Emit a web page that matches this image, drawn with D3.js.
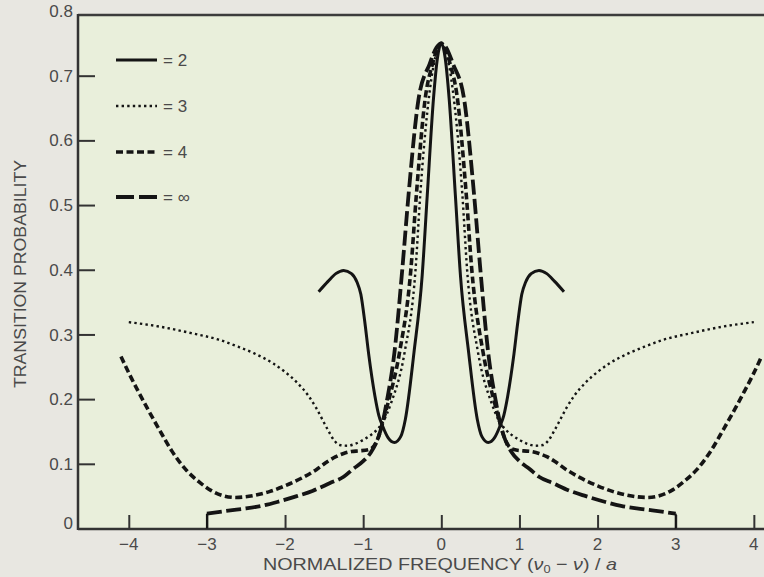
<!DOCTYPE html>
<html>
<head>
<meta charset="utf-8">
<script src="https://cdn.jsdelivr.net/npm/d3@7"></script>
<style>
  html, body { margin: 0; padding: 0; background: #e8e7e1; }
  svg { display: block; }
  text { font-family: "Liberation Sans", Arial, Helvetica, sans-serif; fill: #4a4a4a; }
</style>
</head>
<body>
<svg id="chart" width="764" height="577"></svg>
<script>
// ---------------- data ----------------
const xTicks = [-4, -3, -2, -1, 0, 1, 2, 3, 4];
const xTickLabels = ["\u22124", "\u22123", "\u22122", "\u22121", "0", "1", "2", "3", "4"];
const yTicks = [0, 0.1, 0.2, 0.3, 0.4, 0.5, 0.6, 0.7, 0.8];
const yTickLabels = ["0", "0.1", "0.2", "0.3", "0.4", "0.5", "0.6", "0.7", "0.8"];

const seriesNames = ["= 2", "= 3", "= 4", "= \u221E"];

// N = 2 (solid)
const n2Freq = [-1.57, -1.45, -1.35, -1.25, -1.15, -1.08, -1.03, -0.98, -0.93, -0.85, -0.8, -0.75, -0.68, -0.6, -0.52, -0.46, -0.35, -0.245, -0.18, -0.1, -0.05, 0,
                0.05, 0.1, 0.18, 0.245, 0.35, 0.46, 0.52, 0.6, 0.68, 0.75, 0.8, 0.85, 0.93, 0.98, 1.03, 1.08, 1.15, 1.25, 1.35, 1.45, 1.57];
const n2Prob = [0.366, 0.382, 0.394, 0.399, 0.394, 0.381, 0.362, 0.32, 0.27, 0.205, 0.175, 0.158, 0.140, 0.133, 0.142, 0.169, 0.272, 0.391, 0.515, 0.665, 0.727, 0.75,
                0.727, 0.665, 0.515, 0.391, 0.272, 0.169, 0.142, 0.133, 0.140, 0.158, 0.175, 0.205, 0.27, 0.32, 0.362, 0.381, 0.394, 0.399, 0.394, 0.382, 0.366];

// N = 3 (dotted)
const n3Freq = [-4.0, -3.6, -3.2, -2.85, -2.6, -2.4, -2.15, -2.0, -1.85, -1.7, -1.6, -1.52, -1.45, -1.37, -1.3, -1.2, -1.1, -1.0, -0.92, -0.83, -0.75, -0.64, -0.47, -0.33, -0.27, -0.155, -0.1, -0.05, 0,
                0.05, 0.1, 0.155, 0.27, 0.33, 0.47, 0.64, 0.75, 0.83, 0.92, 1.0, 1.1, 1.2, 1.3, 1.37, 1.45, 1.52, 1.6, 1.7, 1.85, 2.0, 2.15, 2.4, 2.6, 2.85, 3.2, 3.6, 4.0];
const n3Prob = [0.319, 0.312, 0.302, 0.292, 0.281, 0.271, 0.255, 0.242, 0.226, 0.205, 0.186, 0.168, 0.152, 0.136, 0.129, 0.128, 0.131, 0.137, 0.143, 0.152, 0.164, 0.195, 0.272, 0.40, 0.515, 0.67, 0.715, 0.74, 0.75,
                0.74, 0.715, 0.67, 0.515, 0.40, 0.272, 0.195, 0.164, 0.152, 0.143, 0.137, 0.131, 0.128, 0.129, 0.136, 0.152, 0.168, 0.186, 0.205, 0.226, 0.242, 0.255, 0.271, 0.281, 0.292, 0.302, 0.312, 0.319];

// N = 4 (short dashes)
const n4Freq = [-4.1, -3.99, -3.87, -3.75, -3.61, -3.45, -3.27, -3.1, -2.95, -2.8, -2.63, -2.4, -2.2, -2.0, -1.77, -1.6, -1.45, -1.35, -1.25, -1.15, -1.05, -0.93, -0.86, -0.8, -0.75, -0.68, -0.535, -0.39, -0.32, -0.2, -0.12, -0.05, 0,
                0.05, 0.12, 0.2, 0.32, 0.39, 0.535, 0.68, 0.75, 0.8, 0.86, 0.93, 1.05, 1.15, 1.25, 1.35, 1.45, 1.6, 1.77, 2.0, 2.2, 2.4, 2.63, 2.8, 2.95, 3.1, 3.27, 3.45, 3.61, 3.75, 3.87, 3.99, 4.1];
const n4Prob = [0.266, 0.238, 0.21, 0.183, 0.153, 0.12, 0.091, 0.072, 0.059, 0.051, 0.048, 0.051, 0.057, 0.066, 0.079, 0.091, 0.104, 0.111, 0.116, 0.119, 0.12, 0.122, 0.128, 0.143, 0.164, 0.195, 0.272, 0.40, 0.515, 0.67, 0.715, 0.742, 0.75,
                0.742, 0.715, 0.67, 0.515, 0.40, 0.272, 0.195, 0.164, 0.143, 0.128, 0.122, 0.12, 0.119, 0.116, 0.111, 0.104, 0.091, 0.079, 0.066, 0.057, 0.051, 0.048, 0.051, 0.059, 0.072, 0.091, 0.12, 0.153, 0.183, 0.21, 0.238, 0.266];

// N = infinity (long dashes)
const nInfFreq = [-3.0, -2.7, -2.5, -2.3, -2.1, -1.85, -1.65, -1.43, -1.25, -1.13, -1.0, -0.9, -0.8, -0.75, -0.7, -0.6, -0.5, -0.42, -0.29, -0.15, -0.06, 0,
                  0.06, 0.15, 0.29, 0.42, 0.5, 0.6, 0.7, 0.75, 0.8, 0.9, 1.0, 1.13, 1.25, 1.43, 1.65, 1.85, 2.1, 2.3, 2.5, 2.7, 3.0];
const nInfProb = [0.023, 0.028, 0.031, 0.035, 0.041, 0.05, 0.058, 0.07, 0.08, 0.092, 0.104, 0.118, 0.143, 0.164, 0.195, 0.272, 0.40, 0.515, 0.665, 0.718, 0.744, 0.75,
                  0.744, 0.718, 0.665, 0.515, 0.40, 0.272, 0.195, 0.164, 0.143, 0.118, 0.104, 0.092, 0.08, 0.07, 0.058, 0.05, 0.041, 0.035, 0.031, 0.028, 0.023];
// ends of the N = infinity curve drop to the axis
const nInfEnds = [-3.0, 3.0];

// ---------------- drawing ----------------
const plot = { left: 78, right: 764, top: 15, bottom: 529 };
const svg = d3.select("#chart");

const x = d3.scaleLinear().domain([-4.65, 4.13]).range([plot.left, plot.right]);
const y = d3.scaleLinear().domain([0, 0.8]).range([528.5, 11]);

// plot background
svg.append("rect")
  .attr("x", plot.left).attr("y", plot.top)
  .attr("width", plot.right - plot.left).attr("height", plot.bottom - plot.top)
  .attr("fill", "#e9efdb");

// top frame line
svg.append("line")
  .attr("x1", plot.left).attr("x2", plot.right)
  .attr("y1", plot.top).attr("y2", plot.top)
  .attr("stroke", "#3c3c3c").attr("stroke-width", 2.5);

// axes
const xAxis = d3.axisTop(x).tickValues(xTicks).tickSize(14).tickFormat("");
const gx = svg.append("g").attr("transform", `translate(0,${plot.bottom})`).call(xAxis);
gx.select(".domain").remove();
gx.selectAll(".tick line").attr("stroke", "#333").attr("stroke-width", 2);

const yAxis = d3.axisRight(y).tickValues(yTicks.filter(d => d > 0 && d < 0.8)).tickSize(17).tickFormat("");
const gy = svg.append("g").attr("transform", `translate(${plot.left},0)`).call(yAxis);
gy.select(".domain").remove();
gy.selectAll(".tick line").attr("stroke", "#333").attr("stroke-width", 2);

// axis lines
svg.append("line")
  .attr("x1", plot.left).attr("x2", plot.right)
  .attr("y1", plot.bottom).attr("y2", plot.bottom)
  .attr("stroke", "#333").attr("stroke-width", 2.5);
svg.append("line")
  .attr("x1", plot.left).attr("x2", plot.left)
  .attr("y1", plot.top - 1).attr("y2", plot.bottom + 1)
  .attr("stroke", "#333").attr("stroke-width", 2.5);

// tick labels
svg.append("g").selectAll("text").data(xTicks).join("text")
  .attr("x", d => x(d)).attr("y", 550)
  .attr("text-anchor", "middle")
  .attr("font-size", 17)
  .text((d, i) => xTickLabels[i]);

svg.append("g").selectAll("text").data(yTicks).join("text")
  .attr("x", 73).attr("y", d => d === 0 ? y(d) - 6 : y(d))
  .attr("dy", "0.36em")
  .attr("text-anchor", "end")
  .attr("font-size", 17)
  .text((d, i) => yTickLabels[i]);

// axis titles
const xt = svg.append("text")
  .attr("x", 440).attr("y", 570)
  .attr("text-anchor", "middle")
  .attr("font-size", 17)
  .attr("textLength", 354)
  .attr("lengthAdjust", "spacingAndGlyphs");
xt.append("tspan").text("NORMALIZED FREQUENCY (");
xt.append("tspan").attr("font-style", "italic").text("\u03BD");
xt.append("tspan").attr("font-size", 11).attr("dy", 3).text("0");
xt.append("tspan").attr("dy", -3).text(" \u2212 ");
xt.append("tspan").attr("font-style", "italic").text("\u03BD");
xt.append("tspan").text(") / ");
xt.append("tspan").attr("font-style", "italic").text("a");

svg.append("text")
  .attr("transform", "translate(26,274) rotate(-90)")
  .attr("text-anchor", "middle")
  .attr("font-size", 16.5)
  .attr("textLength", 228)
  .attr("lengthAdjust", "spacingAndGlyphs")
  .text("TRANSITION PROBABILITY");

// series
const styles = [
  { width: 3, dash: null },
  { width: 2.4, dash: "2.4,3.2" },
  { width: 3.6, dash: "7,3.5" },
  { width: 3.8, dash: "15,4.5" }
];
const series = [
  { f: n2Freq, p: n2Prob },
  { f: n3Freq, p: n3Prob },
  { f: n4Freq, p: n4Prob },
  { f: nInfFreq, p: nInfProb }
];

const line = d3.line().x(d => x(d[0])).y(d => y(d[1])).curve(d3.curveMonotoneX);

series.forEach((s, i) => {
  const pts = s.f.map((v, k) => [v, s.p[k]]);
  svg.append("path")
    .datum(pts)
    .attr("d", line)
    .attr("fill", "none")
    .attr("stroke", "#141414")
    .attr("stroke-width", styles[i].width)
    .attr("stroke-dasharray", styles[i].dash);
});

// vertical drops at the ends of the N = infinity curve
svg.append("g").selectAll("line").data(nInfEnds).join("line")
  .attr("x1", d => x(d)).attr("x2", d => x(d))
  .attr("y1", d => y(nInfProb[nInfFreq.indexOf(d)])).attr("y2", y(0))
  .attr("stroke", "#141414").attr("stroke-width", 2);

// legend
const legendY = [60, 106, 152, 197];
const legendDash = [null, "2.4,3.2", "7,3.5", "18,5"];
const lg = svg.append("g");
seriesNames.forEach((name, i) => {
  lg.append("line")
    .attr("x1", 116).attr("x2", 157)
    .attr("y1", legendY[i]).attr("y2", legendY[i])
    .attr("stroke", "#141414")
    .attr("stroke-width", styles[i].width)
    .attr("stroke-dasharray", legendDash[i]);
  lg.append("text")
    .attr("x", 163).attr("y", legendY[i])
    .attr("dy", "0.36em")
    .attr("font-size", 17)
    .text(name);
});
</script>
</body>
</html>
